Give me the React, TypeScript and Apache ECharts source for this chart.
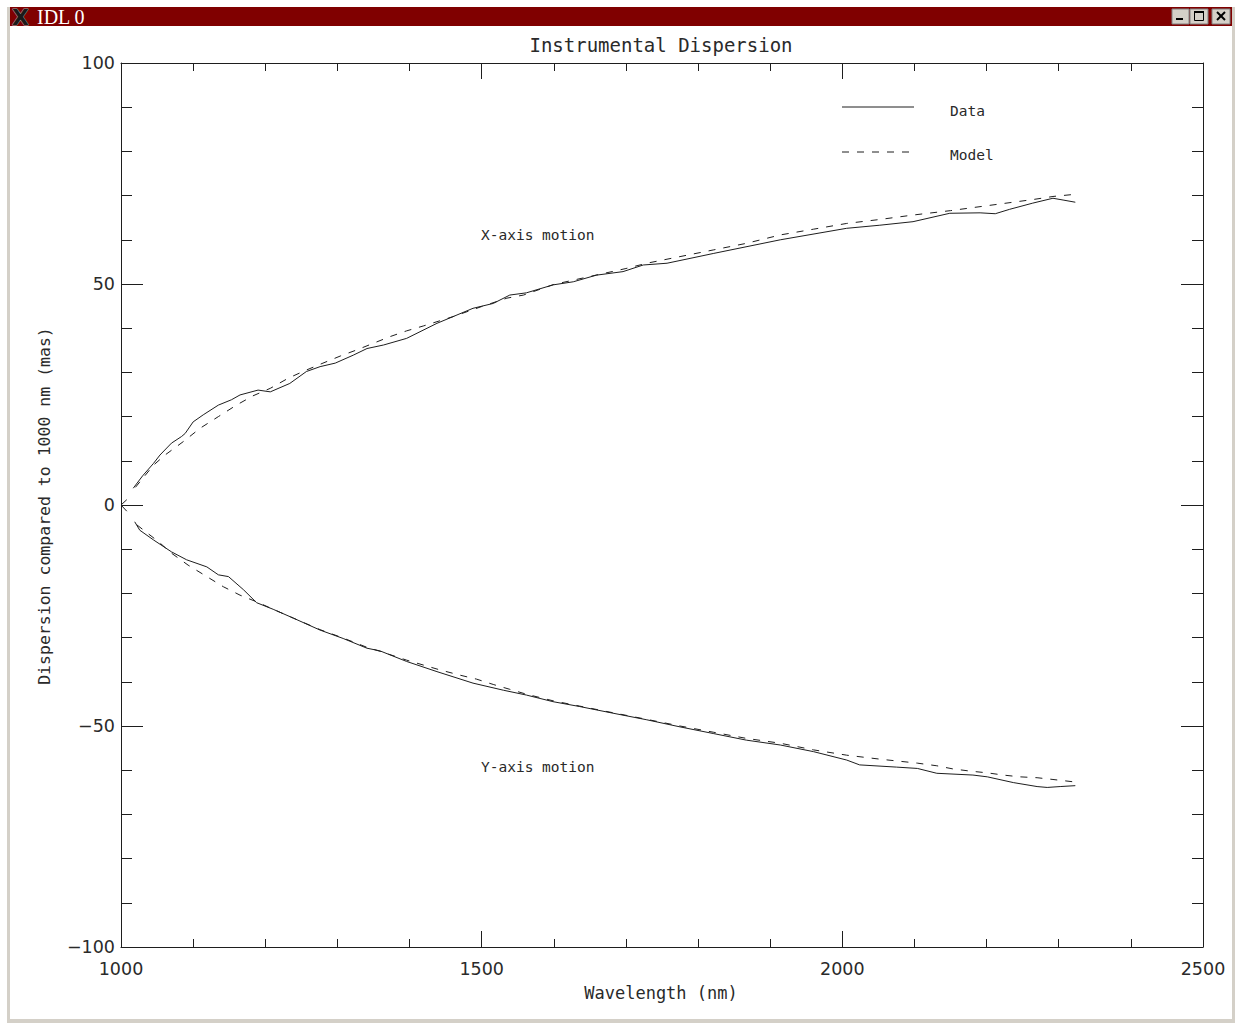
import React, { useEffect, useRef } from "react";
import * as echarts from "echarts";

// ---- data (wavelength nm, dispersion mas) ----
const xDataPoints: [number, number | string][] = [
  [1000, 0], [1008, 1.2], [1012, "-"],
  [1017, 3.8], [1030, 6.6], [1045, 9.4], [1054, 11.3], [1070, 14.0], [1084, 15.5], [1089, 16.2],
  [1100, 18.8], [1114, 20.4], [1135, 22.6], [1153, 23.8], [1165, 24.9], [1190, 26.0], [1207, 25.6],
  [1234, 27.5], [1257, 30.2], [1276, 31.3], [1297, 32.1], [1322, 33.9], [1341, 35.4], [1364, 36.2],
  [1396, 37.7], [1438, 41.1], [1488, 44.5], [1516, 45.6], [1539, 47.5], [1562, 48.0], [1599, 49.8],
  [1627, 50.5], [1659, 52.0], [1696, 52.8], [1724, 54.3], [1757, 54.7], [1821, 56.9], [1914, 60.0],
  [2006, 62.6], [2052, 63.3], [2098, 64.1], [2149, 66.0], [2191, 66.1], [2212, 65.9], [2232, 66.9],
  [2264, 68.3], [2292, 69.4], [2306, 69.0], [2323, 68.5],
];

const xModelPoints: [number, number][] = [
  [1020, 4.0], [1045, 9.0], [1061, 11.3], [1086, 14.3], [1110, 17.4], [1135, 20.0], [1160, 22.6],
  [1183, 24.7], [1207, 26.4], [1232, 28.7], [1255, 30.4], [1280, 32.1], [1304, 33.7], [1327, 35.1],
  [1350, 36.6], [1373, 38.1], [1396, 39.4], [1419, 40.5], [1460, 42.6], [1500, 44.9], [1535, 46.8],
  [1558, 47.5], [1600, 49.9], [1650, 51.7], [1700, 53.5], [1729, 54.7], [1775, 56.2], [1821, 57.7],
  [1867, 59.2], [1914, 61.1], [1960, 62.4], [2006, 63.7], [2052, 64.6], [2098, 65.6], [2150, 66.6],
  [2200, 67.7], [2264, 69.1], [2292, 69.8], [2323, 70.3],
];

const yDataPoints: [number, number | string][] = [
  [1000, 0], [1008, -1.4], [1012, "-"],
  [1019, -3.8], [1026, -5.7], [1045, -7.9], [1070, -10.6], [1091, -12.4], [1119, -14.0], [1135, -15.8],
  [1149, -16.2], [1170, -19.2], [1188, -22.1], [1211, -23.6], [1239, -25.6], [1276, -28.3], [1308, -30.2],
  [1341, -32.4], [1359, -33.0], [1396, -35.4], [1438, -37.7], [1488, -40.3], [1530, -41.9], [1562, -43.0],
  [1599, -44.5], [1636, -45.6], [1682, -47.1], [1729, -48.6], [1775, -50.2], [1821, -51.7], [1867, -53.2],
  [1914, -54.3], [1960, -55.8], [2006, -57.7], [2024, -58.8], [2075, -59.3], [2104, -59.6], [2131, -60.7],
  [2181, -61.1], [2201, -61.5], [2237, -62.8], [2270, -63.7], [2284, -63.9], [2302, -63.7], [2323, -63.5],
];

const yModelPoints: [number, number][] = [
  [1022, -4.5], [1052, -8.3], [1070, -10.9], [1093, -13.6], [1119, -16.2], [1142, -18.5], [1165, -20.4],
  [1188, -21.9], [1211, -23.6], [1239, -25.6], [1276, -28.2], [1308, -30.1], [1341, -32.2], [1359, -33.1],
  [1396, -35.1], [1442, -37.3], [1470, -38.5], [1493, -39.4], [1516, -40.6], [1539, -41.7], [1562, -42.8],
  [1599, -44.3], [1636, -45.5], [1682, -47.0], [1729, -48.5], [1775, -50.0], [1821, -51.4], [1867, -52.8],
  [1914, -53.9], [1960, -55.4], [2006, -56.6], [2052, -57.5], [2104, -58.4], [2131, -59.0], [2153, -59.7],
  [2177, -60.2], [2201, -60.6], [2223, -61.1], [2246, -61.5], [2270, -61.7], [2292, -62.1], [2319, -62.6],
];

const xRange = [1000, 2500];
const yRange = [-100, 100];
const titleText = "Instrumental Dispersion";
const xTitle = "Wavelength (nm)";
const yTitle = "Dispersion compared to 1000 nm (mas)";
const legendLabels = ["Data", "Model"];
const annotations = ["X-axis motion", "Y-axis motion"];

const INK = "#1e1e1e";
const TEXT = "#2a2a2a";
const FONT = "DejaVu Sans Mono";
const NUMFONT = "DejaVu Sans";

export default function App() {
  const ref = useRef<HTMLDivElement>(null);

  useEffect(() => {
    document.body.style.margin = "0";
    const chart = echarts.init(ref.current!, null, { renderer: "svg" });

    const axisCommon = {
      type: "value" as const,
      axisLine: { show: true, onZero: false, lineStyle: { color: INK, width: 1 } },
      axisTick: { show: true, inside: true, lineStyle: { color: INK, width: 1 } },
      minorTick: { show: true, splitNumber: 5, lineStyle: { color: INK, width: 1 } },
      splitLine: { show: false },
      minorSplitLine: { show: false },
    };

    const lineBase = {
      type: "line" as const,
      showSymbol: false,
      symbol: "none",
      connectNulls: false,
      xAxisIndex: 0,
      yAxisIndex: 0,
      silent: true,
    };

    chart.setOption({
      animation: false,
      backgroundColor: "#ffffff",
      grid: { left: 121, right: 33, top: 63, bottom: 77, outerBoundsMode: "none" },
      xAxis: [
        {
          ...axisCommon,
          position: "bottom",
          min: xRange[0],
          max: xRange[1],
          interval: 500,
          axisTick: { ...axisCommon.axisTick, length: 16 },
          minorTick: { ...axisCommon.minorTick, length: 8 },
          axisLabel: {
            color: TEXT,
            fontFamily: NUMFONT,
            fontSize: 17.5,
            margin: 13,
            formatter: (v: number) => String(v),
          },
        },
        {
          ...axisCommon,
          position: "top",
          min: xRange[0],
          max: xRange[1],
          interval: 500,
          axisTick: { ...axisCommon.axisTick, length: 16 },
          minorTick: { ...axisCommon.minorTick, length: 8 },
          axisLabel: { show: false },
        },
      ],
      yAxis: [
        {
          ...axisCommon,
          position: "left",
          min: yRange[0],
          max: yRange[1],
          interval: 50,
          axisTick: { ...axisCommon.axisTick, length: 22 },
          minorTick: { ...axisCommon.minorTick, length: 11 },
          axisLabel: {
            color: TEXT,
            fontFamily: NUMFONT,
            fontSize: 17.5,
            margin: 6,
            formatter: (v: number) => (v < 0 ? "\u2212" + Math.abs(v) : String(v)),
          },
        },
        {
          ...axisCommon,
          position: "right",
          min: yRange[0],
          max: yRange[1],
          interval: 50,
          axisTick: { ...axisCommon.axisTick, length: 22 },
          minorTick: { ...axisCommon.minorTick, length: 11 },
          axisLabel: { show: false },
        },
      ],
      series: [
        { ...lineBase, name: "X Data", data: xDataPoints, lineStyle: { color: INK, width: 1 } },
        { ...lineBase, name: "X Model", data: xModelPoints, lineStyle: { color: INK, width: 1, type: [7, 8] } },
        { ...lineBase, name: "Y Data", data: yDataPoints, lineStyle: { color: INK, width: 1 } },
        { ...lineBase, name: "Y Model", data: yModelPoints, lineStyle: { color: INK, width: 1, type: [7, 8] } },
      ],
      graphic: [
        // window frame
        { type: "rect", z: -10, silent: true, shape: { x: 7, y: 7, width: 1228, height: 1016 }, style: { fill: "#d4d0c8" } },
        { type: "rect", z: -9, silent: true, shape: { x: 10, y: 26, width: 1222, height: 993 }, style: { fill: "#ffffff" } },
        { type: "rect", z: 10, silent: true, shape: { x: 10, y: 7, width: 1222, height: 19 }, style: { fill: "#800000" } },
        {
          type: "text", z: 11, silent: true, x: 12, y: 17,
          style: { text: "X", fill: "#1a1a1a", stroke: "#a0a0a0", lineWidth: 1, font: "bold 22px 'DejaVu Sans'", verticalAlign: "middle" },
        },
        {
          type: "text", z: 11, silent: true, x: 37, y: 17,
          style: { text: "IDL 0", fill: "#ffffff", font: "20px 'Liberation Serif'", verticalAlign: "middle" },
        },
        // window buttons
        { type: "rect", z: 11, silent: true, shape: { x: 1172, y: 9, width: 17, height: 15 }, style: { fill: "#d4d0c8", stroke: "#808080", lineWidth: 1 } },
        { type: "rect", z: 12, silent: true, shape: { x: 1176, y: 18, width: 7, height: 2 }, style: { fill: "#000" } },
        { type: "rect", z: 11, silent: true, shape: { x: 1190, y: 9, width: 18, height: 15 }, style: { fill: "#d4d0c8", stroke: "#808080", lineWidth: 1 } },
        { type: "rect", z: 12, silent: true, shape: { x: 1194.5, y: 11.5, width: 9, height: 9 }, style: { fill: "none", stroke: "#000", lineWidth: 1 } },
        { type: "rect", z: 12, silent: true, shape: { x: 1194, y: 11, width: 10, height: 2 }, style: { fill: "#000" } },
        { type: "rect", z: 11, silent: true, shape: { x: 1212, y: 9, width: 18, height: 15 }, style: { fill: "#d4d0c8", stroke: "#808080", lineWidth: 1 } },
        { type: "line", z: 12, silent: true, shape: { x1: 1217, y1: 12, x2: 1225, y2: 20 }, style: { stroke: "#000", lineWidth: 2 } },
        { type: "line", z: 12, silent: true, shape: { x1: 1225, y1: 12, x2: 1217, y2: 20 }, style: { stroke: "#000", lineWidth: 2 } },
        // titles
        {
          type: "text", silent: true, x: 661, y: 45,
          style: { text: titleText, fill: TEXT, font: `19px '${FONT}'`, align: "center", verticalAlign: "middle" },
        },
        {
          type: "text", silent: true, x: 661, y: 993,
          style: { text: xTitle, fill: TEXT, font: `17px '${FONT}'`, align: "center", verticalAlign: "middle" },
        },
        {
          type: "text", silent: true, x: 44, y: 506, rotation: Math.PI / 2,
          style: { text: yTitle, fill: TEXT, font: `16.5px '${FONT}'`, align: "center", verticalAlign: "middle" },
        },
        // legend
        { type: "line", silent: true, shape: { x1: 842, y1: 107, x2: 914, y2: 107 }, style: { stroke: INK, lineWidth: 1 } },
        { type: "line", silent: true, shape: { x1: 842, y1: 152, x2: 914, y2: 152 }, style: { stroke: INK, lineWidth: 1, lineDash: [7, 8] } },
        {
          type: "text", silent: true, x: 950, y: 111,
          style: { text: legendLabels[0], fill: TEXT, font: `14.5px '${FONT}'`, verticalAlign: "middle" },
        },
        {
          type: "text", silent: true, x: 950, y: 155,
          style: { text: legendLabels[1], fill: TEXT, font: `14.5px '${FONT}'`, verticalAlign: "middle" },
        },
        // annotations
        {
          type: "text", silent: true, x: 481, y: 235,
          style: { text: annotations[0], fill: TEXT, font: `14.5px '${FONT}'`, verticalAlign: "middle" },
        },
        {
          type: "text", silent: true, x: 481, y: 767,
          style: { text: annotations[1], fill: TEXT, font: `14.5px '${FONT}'`, verticalAlign: "middle" },
        },
      ],
    });

    return () => chart.dispose();
  }, []);

  return (
    <div
      ref={ref}
      style={{ position: "fixed", left: 0, top: 0, width: 1236, height: 1024, background: "#fff" }}
    />
  );
}
